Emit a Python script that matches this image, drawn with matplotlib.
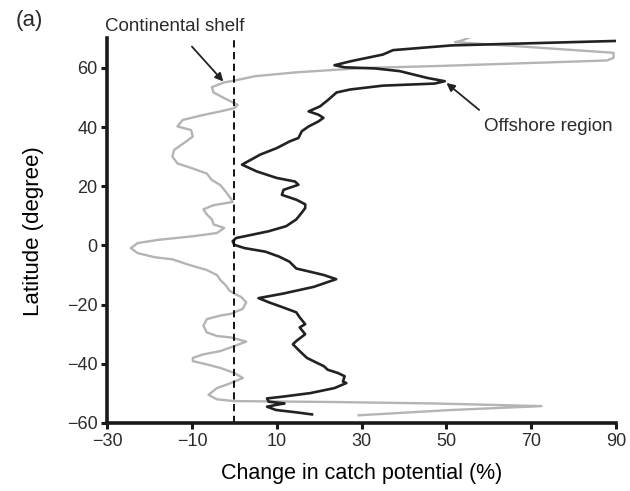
import matplotlib
matplotlib.use("Agg")
import matplotlib.pyplot as plt

# ── Data ──────────────────────────────────────────────────────────────────
# offshore region, traced from north to south
offshore_x = [89.8, 51.2, 37.4, 35.0, 27.6, 23.6, 26.0, 33.3, 39.0, 45.5, 49.6,
              47.2, 35.0, 27.3, 24.1, 22.2, 20.2, 17.5, 19.8, 21.0, 19.8, 17.5,
              15.9, 15.1, 13.1, 10.0, 6.1, 1.8, 5.3, 10.0, 14.3, 15.1, 11.6,
              11.2, 14.7, 16.7, 16.7, 15.9, 14.6, 12.2, 8.1, 4.1, 0.4, -0.4,
              0.0, 2.4, 7.3, 10.6, 13.0, 14.6, 17.9, 21.1, 24.0, 18.7, 11.4,
              5.7, 8.1, 11.4, 14.6, 15.4, 16.7, 15.4, 16.7, 14.6, 13.8, 15.4,
              17.1, 19.5, 21.1, 22.0, 24.4, 26.0, 25.6, 26.4, 23.6, 17.9, 11.4,
              7.7, 8.1, 11.8, 9.8, 7.7, 9.8, 14.6, 18.3]
offshore_lat = [69.1, 67.6, 66.0, 64.5, 62.3, 60.9, 60.2, 59.8, 58.9, 56.6, 55.5,
                54.7, 54.0, 52.7, 51.7, 49.3, 47.0, 45.3, 44.2, 43.1, 41.9, 40.2,
                38.6, 36.3, 35.2, 32.9, 30.7, 27.3, 25.0, 22.8, 21.6, 20.5, 18.8,
                17.1, 15.4, 13.9, 12.6, 11.1, 8.8, 6.5, 4.8, 3.6, 2.5, 1.4,
                0.2, -0.9, -2.1, -3.8, -5.5, -7.8, -8.9, -10.0, -11.4, -14.0,
                -16.3, -17.8, -19.2, -20.9, -22.6, -24.3, -26.6, -27.7, -30.0,
                -32.3, -33.4, -35.7, -38.0, -39.7, -40.8, -42.0, -43.1, -44.2,
                -46.0, -46.5, -48.2, -49.9, -51.1, -51.7, -52.8, -53.4, -53.9,
                -54.5, -55.6, -56.4, -57.1]

# continental shelf, traced from north to south
shelf_x = [55.3, 53.5, 52.0, 70.0, 89.4, 89.4, 87.8, 47.2, 30.9, 14.6, 4.9, 0.0,
           -2.4, -5.3, -4.9, -2.4, 0.8, 0.0, -3.3, -7.3, -12.2, -13.4, -10.2,
           -9.8, -11.4, -14.2, -14.6, -13.4, -9.8, -6.5, -5.3, -3.3, -2.0, -0.8,
           -0.4, -4.9, -7.3, -6.5, -5.3, -4.9, -2.4, -4.1, -9.8, -17.9, -22.8,
           -24.4, -22.8, -18.7, -14.6, -10.6, -6.5, -4.1, -3.3, -2.0, -1.2, 0.0,
           1.6, 2.8, 2.0, -0.8, -3.3, -6.5, -7.3, -6.5, -4.1, -0.8, 2.8, 0.0,
           -3.3, -7.3, -9.8, -9.8, -6.5, -3.3, 0.0, 2.0, -0.8, -4.1, -6.1, -4.1,
           0.0, 22.8, 47.2, 72.4, 51.2, 29.3]
shelf_lat = [70.2, 69.2, 68.7, 67.0, 65.1, 63.4, 62.5, 60.6, 60.0, 58.5, 57.2,
             55.7, 55.1, 53.5, 51.7, 49.8, 47.5, 46.4, 45.3, 44.1, 42.4, 40.2,
             39.0, 36.8, 35.1, 32.3, 30.0, 27.7, 26.0, 24.3, 22.1, 20.4, 18.1,
             15.8, 14.7, 13.6, 12.2, 10.5, 8.8, 7.1, 5.9, 4.2, 3.1, 1.9, 0.8,
             -0.9, -2.6, -4.0, -4.7, -6.6, -8.3, -10.0, -11.7, -13.5, -15.2,
             -16.3, -17.4, -19.2, -21.4, -23.1, -23.7, -24.9, -27.1, -29.4,
             -30.6, -31.1, -32.5, -34.0, -35.7, -36.8, -38.0, -39.1, -40.2,
             -41.4, -43.1, -44.8, -46.5, -48.2, -50.5, -52.0, -52.6, -52.9,
             -53.4, -54.3, -55.6, -57.4]

x_ticks = [-30, -10, 10, 30, 50, 70, 90]
y_ticks = [-60, -40, -20, 0, 20, 40, 60]
# ─────────────────────────────────────────────────────────────────────────

plt.rcParams['font.family'] = ['Liberation Sans', 'DejaVu Sans']
plt.rcParams['text.color'] = '#2b2b2b'

fig = plt.figure(figsize=(6.3, 4.91), dpi=100)
ax = fig.add_axes([0.170, 0.1385, 0.808, 0.7835])

ax.plot(shelf_x, shelf_lat, color='#b4b4b4', lw=1.7, solid_joinstyle='round')
ax.plot(offshore_x, offshore_lat, color='#222222', lw=1.9, solid_joinstyle='round')
ax.axvline(0, color='black', lw=1.3, ls=(0, (4, 2.5)))

ax.set_xlim(-30, 90)
ax.set_ylim(-60, 70)
ax.set_xticks(x_ticks)
ax.set_yticks(y_ticks)

for s in ['top', 'right']:
    ax.spines[s].set_visible(False)
for s in ['left', 'bottom']:
    ax.spines[s].set_linewidth(2.6)
    ax.spines[s].set_color('#1a1a1a')
ax.tick_params(direction='out', length=4, width=2.2, labelsize=13, pad=3,
               color='#1a1a1a', labelcolor='#2b2b2b')

ax.set_xlabel('Change in catch potential (%)', fontsize=15.5)
ax.set_ylabel('Latitude (degree)', fontsize=16)
ax.xaxis.set_label_coords(0.5, -0.105)
ax.yaxis.set_label_coords(-0.124, 0.5)

# annotations
ax.text(-30.5, 74.1, 'Continental shelf', fontsize=13.5, va='center',
        ha='left', clip_on=False)
ax.annotate('', xy=(-2.6, 55.4), xytext=(-10.0, 67.2), annotation_clip=False,
            arrowprops=dict(arrowstyle='-|>', color='#222222', lw=1.3,
                            mutation_scale=12, shrinkA=0, shrinkB=0))
ax.text(58.9, 40.2, 'Offshore region', fontsize=13.5, va='center',
        ha='left', clip_on=False)
ax.annotate('', xy=(50.0, 54.9), xytext=(57.7, 45.8), annotation_clip=False,
            arrowprops=dict(arrowstyle='-|>', color='#222222', lw=1.3,
                            mutation_scale=12, shrinkA=0, shrinkB=0))

fig.text(0.046, 0.959, '(a)', fontsize=16, va='center', ha='center')

fig.savefig('out.png', dpi=100)
